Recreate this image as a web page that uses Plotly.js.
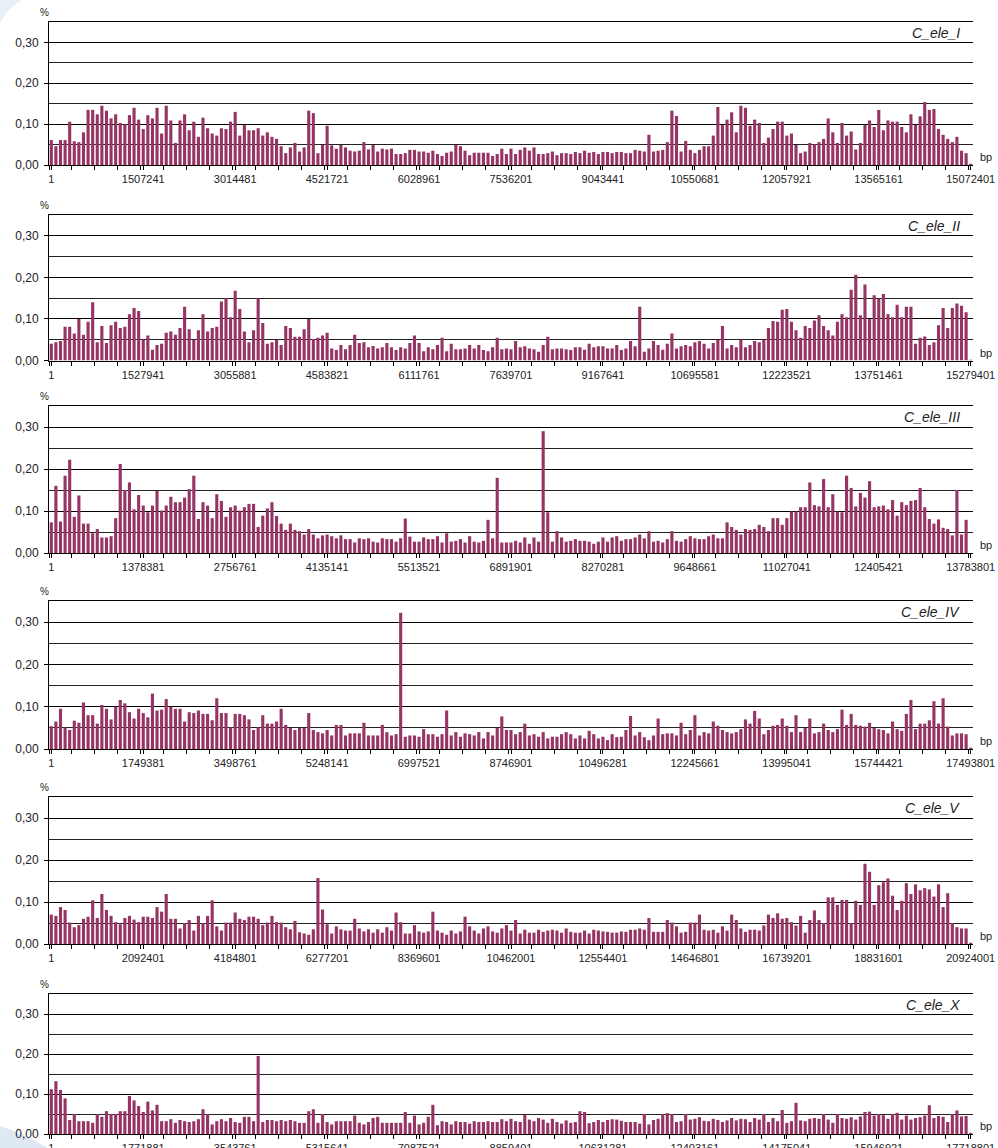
<!DOCTYPE html>
<html><head><meta charset="utf-8">
<script src="https://cdn.plot.ly/plotly-3.0.1.min.js"></script>
<style>html,body{margin:0;padding:0;background:#fff;}#chart{width:998px;height:1148px;}</style>
</head><body><div id="chart"></div>
<script>
const chromNames = ['C_ele_I','C_ele_II','C_ele_III','C_ele_IV','C_ele_V','C_ele_X'];
const binSizes = [75362, 76397, 68919, 87469, 104620, 88594];

const ticksI   = ['1','1507241','3014481','4521721','6028961','7536201','9043441','10550681','12057921','13565161','15072401'];
const ticksII  = ['1','1527941','3055881','4583821','6111761','7639701','9167641','10695581','12223521','13751461','15279401'];
const ticksIII = ['1','1378381','2756761','4135141','5513521','6891901','8270281','9648661','11027041','12405421','13783801'];
const ticksIV  = ['1','1749381','3498761','5248141','6997521','8746901','10496281','12245661','13995041','15744421','17493801'];
const ticksV   = ['1','2092401','4184801','6277201','8369601','10462001','12554401','14646801','16739201','18831601','20924001'];
const ticksX   = ['1','1771881','3543761','5315641','7087521','8859401','10631281','12403161','14175041','15946921','17718801'];

const valsI = [
0.061,0.046,0.061,0.061,0.106,0.058,0.056,0.080,0.135,0.135,
0.124,0.145,0.133,0.114,0.124,0.103,0.100,0.122,0.140,0.111,
0.088,0.122,0.114,0.140,0.077,0.145,0.109,0.054,0.109,0.124,
0.085,0.106,0.069,0.116,0.090,0.077,0.072,0.090,0.088,0.106,
0.130,0.072,0.098,0.085,0.085,0.090,0.072,0.080,0.069,0.064,
0.046,0.029,0.043,0.054,0.033,0.043,0.133,0.127,0.029,0.049,
0.096,0.048,0.040,0.049,0.043,0.035,0.033,0.035,0.056,0.038,
0.049,0.033,0.040,0.038,0.040,0.027,0.027,0.029,0.037,0.037,
0.033,0.033,0.030,0.035,0.027,0.022,0.030,0.033,0.049,0.046,
0.035,0.024,0.030,0.030,0.030,0.030,0.022,0.027,0.040,0.027,
0.040,0.027,0.037,0.043,0.035,0.043,0.027,0.027,0.029,0.033,
0.024,0.029,0.029,0.027,0.032,0.029,0.035,0.030,0.032,0.027,
0.032,0.032,0.029,0.032,0.032,0.029,0.029,0.037,0.035,0.033,
0.074,0.033,0.035,0.037,0.056,0.133,0.120,0.033,0.059,0.037,
0.029,0.037,0.046,0.046,0.072,0.142,0.098,0.111,0.129,0.080,
0.145,0.140,0.096,0.111,0.103,0.054,0.067,0.088,0.106,0.106,
0.072,0.077,0.049,0.029,0.033,0.054,0.051,0.056,0.064,0.114,
0.080,0.054,0.103,0.072,0.082,0.038,0.054,0.098,0.109,0.093,
0.135,0.085,0.109,0.106,0.106,0.093,0.080,0.124,0.098,0.119,
0.154,0.135,0.137,0.088,0.074,0.064,0.056,0.069,0.035,0.029,
0.003];

const valsII = [
0.040,0.044,0.047,0.081,0.081,0.065,0.100,0.062,0.093,0.140,
0.044,0.083,0.042,0.085,0.093,0.078,0.081,0.111,0.126,0.119,
0.050,0.060,0.026,0.037,0.040,0.067,0.070,0.062,0.078,0.129,
0.075,0.050,0.073,0.111,0.070,0.078,0.081,0.142,0.150,0.104,
0.168,0.124,0.070,0.044,0.073,0.149,0.090,0.040,0.044,0.050,
0.037,0.083,0.078,0.057,0.057,0.075,0.100,0.052,0.055,0.060,
0.067,0.029,0.025,0.037,0.027,0.037,0.062,0.042,0.044,0.032,
0.035,0.029,0.032,0.042,0.032,0.025,0.032,0.029,0.042,0.060,
0.042,0.022,0.032,0.027,0.037,0.055,0.022,0.040,0.027,0.027,
0.029,0.037,0.029,0.037,0.025,0.022,0.032,0.055,0.027,0.029,
0.027,0.047,0.032,0.034,0.029,0.027,0.021,0.037,0.057,0.027,
0.029,0.029,0.027,0.025,0.032,0.032,0.026,0.040,0.032,0.034,
0.034,0.029,0.029,0.037,0.025,0.029,0.047,0.034,0.129,0.021,
0.029,0.047,0.037,0.026,0.040,0.065,0.029,0.034,0.037,0.034,
0.044,0.047,0.040,0.029,0.042,0.050,0.083,0.029,0.037,0.032,
0.050,0.032,0.037,0.047,0.044,0.050,0.078,0.095,0.093,0.122,
0.124,0.093,0.073,0.055,0.083,0.078,0.096,0.109,0.083,0.073,
0.060,0.093,0.111,0.104,0.170,0.206,0.109,0.183,0.100,0.157,
0.149,0.160,0.111,0.104,0.134,0.104,0.129,0.129,0.040,0.055,
0.058,0.037,0.044,0.085,0.126,0.078,0.126,0.137,0.132,0.116,
0.002];

const valsIII = [
0.073,0.160,0.075,0.184,0.222,0.086,0.137,0.070,0.070,0.047,
0.057,0.037,0.037,0.040,0.083,0.212,0.150,0.168,0.104,0.138,
0.113,0.097,0.113,0.148,0.101,0.113,0.134,0.121,0.121,0.132,
0.152,0.184,0.081,0.121,0.113,0.083,0.140,0.124,0.086,0.109,
0.113,0.101,0.109,0.117,0.117,0.062,0.089,0.106,0.121,0.088,
0.070,0.055,0.070,0.055,0.052,0.044,0.057,0.044,0.035,0.042,
0.044,0.040,0.035,0.042,0.033,0.033,0.025,0.035,0.033,0.035,
0.027,0.025,0.035,0.033,0.033,0.027,0.035,0.082,0.039,0.027,
0.027,0.037,0.033,0.033,0.040,0.025,0.047,0.027,0.029,0.033,
0.025,0.040,0.027,0.025,0.029,0.079,0.035,0.179,0.025,0.025,
0.025,0.029,0.025,0.037,0.022,0.037,0.027,0.290,0.097,0.027,
0.052,0.037,0.027,0.029,0.033,0.029,0.029,0.027,0.022,0.027,
0.037,0.027,0.037,0.040,0.029,0.033,0.033,0.037,0.044,0.035,
0.052,0.027,0.029,0.025,0.033,0.052,0.029,0.027,0.033,0.040,
0.035,0.033,0.033,0.040,0.044,0.035,0.035,0.073,0.062,0.055,
0.044,0.057,0.055,0.057,0.067,0.062,0.052,0.083,0.083,0.067,
0.083,0.099,0.099,0.109,0.109,0.168,0.114,0.111,0.176,0.109,
0.140,0.099,0.097,0.184,0.155,0.111,0.143,0.132,0.171,0.109,
0.111,0.113,0.104,0.126,0.089,0.121,0.114,0.124,0.126,0.155,
0.109,0.081,0.070,0.080,0.060,0.057,0.042,0.150,0.044,0.079,
0.000];

const valsIV = [
0.054,0.065,0.095,0.051,0.045,0.067,0.062,0.110,0.080,0.080,
0.060,0.104,0.095,0.070,0.100,0.116,0.108,0.087,0.072,0.095,
0.085,0.075,0.131,0.091,0.093,0.118,0.100,0.095,0.095,0.065,
0.087,0.085,0.091,0.083,0.083,0.068,0.120,0.085,0.085,0.051,
0.083,0.083,0.080,0.070,0.045,0.051,0.080,0.060,0.060,0.065,
0.095,0.057,0.050,0.045,0.050,0.050,0.085,0.045,0.040,0.037,
0.045,0.032,0.057,0.057,0.032,0.037,0.037,0.037,0.062,0.032,
0.032,0.032,0.057,0.040,0.032,0.035,0.322,0.029,0.032,0.032,
0.029,0.047,0.035,0.035,0.029,0.035,0.091,0.032,0.040,0.029,
0.037,0.035,0.032,0.040,0.025,0.040,0.032,0.050,0.077,0.045,
0.045,0.035,0.040,0.060,0.032,0.035,0.029,0.040,0.025,0.029,
0.029,0.035,0.040,0.035,0.025,0.032,0.025,0.043,0.035,0.025,
0.029,0.021,0.035,0.028,0.029,0.045,0.078,0.032,0.040,0.028,
0.021,0.032,0.072,0.035,0.037,0.037,0.032,0.062,0.035,0.045,
0.080,0.032,0.040,0.037,0.065,0.055,0.045,0.040,0.037,0.040,
0.047,0.070,0.060,0.090,0.072,0.035,0.045,0.055,0.057,0.072,
0.055,0.040,0.080,0.040,0.050,0.072,0.037,0.040,0.060,0.045,
0.040,0.047,0.093,0.057,0.083,0.057,0.055,0.053,0.062,0.050,
0.047,0.045,0.037,0.065,0.047,0.043,0.083,0.116,0.047,0.060,
0.060,0.068,0.113,0.060,0.120,0.053,0.032,0.037,0.037,0.035,
0.003];

const valsV = [
0.070,0.067,0.088,0.081,0.051,0.040,0.045,0.060,0.065,0.104,
0.062,0.119,0.081,0.067,0.052,0.047,0.062,0.067,0.058,0.052,
0.065,0.065,0.062,0.088,0.077,0.119,0.060,0.060,0.037,0.050,
0.057,0.032,0.067,0.050,0.067,0.104,0.042,0.032,0.051,0.051,
0.075,0.060,0.057,0.065,0.065,0.060,0.045,0.051,0.067,0.052,
0.051,0.040,0.035,0.055,0.028,0.025,0.022,0.035,0.157,0.082,
0.047,0.025,0.042,0.035,0.032,0.032,0.060,0.037,0.030,0.035,
0.027,0.035,0.027,0.040,0.032,0.075,0.052,0.025,0.025,0.045,
0.030,0.027,0.030,0.077,0.032,0.027,0.022,0.032,0.025,0.030,
0.065,0.042,0.032,0.025,0.037,0.042,0.030,0.027,0.037,0.045,
0.032,0.057,0.025,0.034,0.027,0.027,0.034,0.029,0.032,0.034,
0.032,0.027,0.037,0.029,0.027,0.027,0.032,0.025,0.034,0.032,
0.030,0.029,0.027,0.027,0.030,0.029,0.034,0.034,0.037,0.034,
0.062,0.029,0.029,0.029,0.057,0.051,0.042,0.027,0.029,0.051,
0.051,0.070,0.034,0.032,0.034,0.027,0.042,0.032,0.070,0.057,
0.037,0.029,0.034,0.034,0.032,0.044,0.070,0.062,0.073,0.060,
0.062,0.052,0.044,0.067,0.027,0.057,0.080,0.057,0.050,0.111,
0.111,0.093,0.105,0.105,0.050,0.103,0.093,0.191,0.172,0.093,
0.140,0.147,0.156,0.115,0.081,0.103,0.145,0.119,0.142,0.128,
0.133,0.130,0.113,0.142,0.088,0.121,0.050,0.040,0.037,0.037,
0.003];

const valsX = [
0.112,0.132,0.110,0.089,0.035,0.050,0.032,0.032,0.032,0.028,
0.050,0.043,0.057,0.050,0.050,0.057,0.057,0.095,0.084,0.070,
0.055,0.081,0.059,0.073,0.032,0.032,0.037,0.028,0.035,0.032,
0.030,0.032,0.037,0.062,0.050,0.024,0.032,0.037,0.032,0.040,
0.030,0.028,0.043,0.043,0.032,0.195,0.030,0.035,0.035,0.032,
0.035,0.032,0.035,0.032,0.028,0.028,0.057,0.062,0.028,0.050,
0.030,0.024,0.032,0.032,0.032,0.032,0.046,0.028,0.024,0.030,
0.040,0.043,0.028,0.028,0.028,0.028,0.028,0.055,0.028,0.046,
0.024,0.028,0.043,0.073,0.022,0.032,0.030,0.024,0.032,0.030,
0.030,0.026,0.032,0.030,0.030,0.032,0.030,0.030,0.037,0.032,
0.038,0.032,0.030,0.048,0.036,0.032,0.040,0.036,0.028,0.038,
0.030,0.026,0.034,0.028,0.030,0.057,0.055,0.027,0.030,0.035,
0.030,0.035,0.037,0.036,0.033,0.030,0.030,0.030,0.026,0.050,
0.024,0.035,0.038,0.050,0.052,0.050,0.030,0.032,0.050,0.036,
0.038,0.042,0.033,0.032,0.038,0.035,0.030,0.034,0.040,0.034,
0.038,0.037,0.030,0.040,0.036,0.050,0.030,0.040,0.032,0.060,
0.028,0.032,0.078,0.034,0.032,0.038,0.040,0.038,0.050,0.036,
0.028,0.050,0.040,0.038,0.042,0.036,0.044,0.055,0.056,0.046,
0.050,0.047,0.038,0.050,0.053,0.036,0.046,0.036,0.040,0.042,
0.046,0.072,0.040,0.045,0.043,0.030,0.050,0.059,0.044,0.045,
0.003];

const allVals = [valsI, valsII, valsIII, valsIV, valsV, valsX];
const allTicks = [ticksI, ticksII, ticksIII, ticksIV, ticksV, ticksX];

// layout geometry (pixels)
const W = 998, H = 1148, L = 49.3, R = 973;
const panelTop  = [22, 215, 406, 601, 797, 994];
const panelZero = [165, 360.5, 553, 749, 944, 1134];
const px = x => (x - L) / (R - L);
const py = y => 1 - y / H;

const barColor = '#963463';
const fontFam = 'Liberation Sans, Arial, sans-serif';

const traces = [];
const layout = {
  width: W, height: H,
  margin: {l: L, r: W - R, t: 0, b: 0},
  paper_bgcolor: '#fff', plot_bgcolor: '#fff',
  separators: ', ',
  showlegend: false,
  bargap: 0.32,
  font: {family: fontFam, size: 11, color: '#222'},
  annotations: [],
  shapes: [
    {type: 'path', xref: 'paper', yref: 'paper', layer: 'below',
     path: 'M ' + px(0) + ',' + py(1126) + ' Q ' + px(25) + ',' + py(1134) + ' ' + px(48) + ',' + py(1148) + ' L ' + px(0) + ',' + py(1148) + ' Z',
     fillcolor: '#dfe9f4', line: {width: 0}},
    {type: 'path', xref: 'paper', yref: 'paper', layer: 'below',
     path: 'M ' + px(0) + ',' + py(0) + ' L ' + px(22) + ',' + py(0) + ' Q ' + px(8) + ',' + py(8) + ' ' + px(0) + ',' + py(24) + ' Z',
     fillcolor: '#e8eff7', line: {width: 0}}
  ]
};

allVals.forEach((vals, k) => {
  const n = vals.length;
  const cats = vals.map((_, i) => i);
  const binStarts = vals.map((_, i) => 1 + i * binSizes[k]);
  const sfx = k === 0 ? '' : String(k + 1);
  traces.push({
    type: 'bar', x: cats, y: vals, customdata: binStarts,
    xaxis: 'x' + sfx, yaxis: 'y' + sfx,
    marker: {color: barColor, line: {width: 0}},
    hovertemplate: '%{customdata}: %{y:.3f}<extra></extra>'
  });
  const tickPos = allTicks[k].map((_, j) => j * 20);
  const minorPos = [];
  for (let b = 0; b <= n; b += 5) minorPos.push(b - 0.5);
  layout['xaxis' + sfx] = {
    domain: [0, 1], anchor: 'y' + sfx,
    range: [-0.5, n - 0.5],
    tickmode: 'array', tickvals: tickPos, ticktext: allTicks[k],
    ticks: 'outside', ticklen: 4, tickwidth: 1, tickcolor: '#000',
    showline: true, linecolor: '#000', linewidth: 1, mirror: true,
    showgrid: false, zeroline: false,
    tickfont: {family: fontFam, size: 11, color: '#222'},
    minor: {tickmode: 'array', tickvals: minorPos, ticks: 'outside', ticklen: 4, tickwidth: 1, tickcolor: '#000', showgrid: false},
    fixedrange: true
  };
  layout['yaxis' + sfx] = {
    domain: [py(panelZero[k]), py(panelTop[k])], anchor: 'x' + sfx,
    range: [0, 0.35],
    tickmode: 'linear', tick0: 0, dtick: 0.1, tickformat: '.2f',
    ticks: 'outside', ticklen: 4, tickwidth: 1, tickcolor: '#000',
    ticklabelstandoff: 3,
    showgrid: true, gridcolor: '#000', gridwidth: 1,
    minor: {tick0: 0, dtick: 0.05, showgrid: true, gridcolor: '#222', gridwidth: 1, ticks: ''},
    showline: true, linecolor: '#000', linewidth: 1,
    zeroline: false,
    tickfont: {family: fontFam, size: 12, color: '#222'},
    fixedrange: true
  };
  layout.annotations.push(
    {xref: 'paper', yref: 'paper', x: px(45), y: py(panelTop[k] - 10), text: '%', showarrow: false,
     xanchor: 'center', yanchor: 'middle', font: {family: fontFam, size: 10, color: '#222'}},
    {xref: 'paper', yref: 'paper', x: px(962), y: py(panelTop[k] + 11), text: '<i>' + chromNames[k] + '</i>', showarrow: false,
     xanchor: 'right', yanchor: 'middle', font: {family: fontFam, size: 14, color: '#222'}},
    {xref: 'paper', yref: 'paper', x: px(986), y: py(panelZero[k] - 8), text: 'bp', showarrow: false,
     xanchor: 'center', yanchor: 'middle', font: {family: fontFam, size: 11, color: '#222'}}
  );
});

Plotly.newPlot('chart', traces, layout, {displayModeBar: false, staticPlot: true});
</script>
</body></html>
